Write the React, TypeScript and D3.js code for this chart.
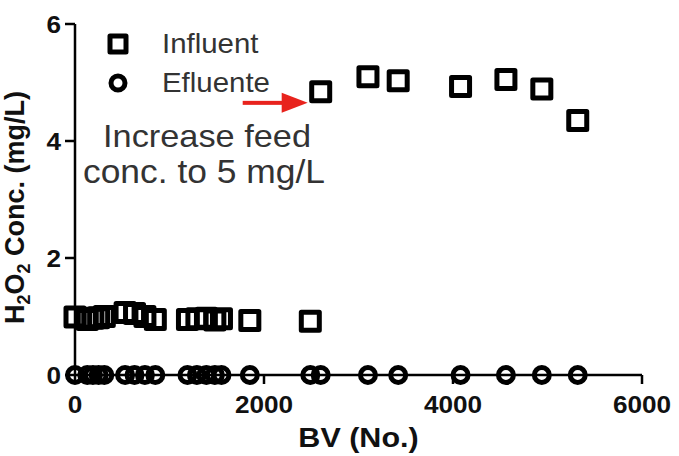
import React from "react";
import * as d3 from "d3";

const bvValues = [0, 130, 190, 250, 310, 530, 630, 740, 850, 1190, 1290, 1390, 1480, 1550, 1850, 2490, 2600, 3100, 3420, 4080, 4560, 4940, 5320];
const influent = [0.99, 0.95, 0.97, 0.98, 1.0, 1.07, 1.05, 1.0, 0.95, 0.95, 0.96, 0.97, 0.94, 0.96, 0.93, 0.92, 4.84, 5.1, 5.03, 4.93, 5.05, 4.89, 4.35];
const efluente = [0, 0, 0, 0, 0, 0, 0, 0, 0, 0, 0, 0, 0, 0, 0, 0, 0, 0, 0, 0, 0, 0, 0];
const xTicks = [0, 2000, 4000, 6000];
const yTicks = [0, 2, 4, 6];
const seriesNames = ["Influent", "Efluente"];
const annotationLines = ["Increase feed", "conc. to 5 mg/L"];

const W = 679;
const H = 456;
const FONT = "'Liberation Sans', Arial, Helvetica, sans-serif";
const SX = 1.09; // horizontal stretch of the reference text

export default function App() {
  const x = d3.scaleLinear().domain([0, 6000]).range([75, 642]);
  const y = d3.scaleLinear().domain([0, 6]).range([375, 24]);
  const sq = 18;
  const r = 7.5;
  const sw = 5;

  const arrowY = y(4.84) + 11;
  const arrowTip = x(2600) - 13;
  const arrowStart = arrowTip - 65;

  const stretched = (cx: number, cy: number) => `translate(${cx},${cy}) scale(${SX},1)`;

  return (
    <svg
      width={W}
      height={H}
      viewBox={`0 0 ${W} ${H}`}
      style={{ position: "absolute", left: 0, top: 0, background: "#fff" }}
      fontFamily={FONT}
    >
      <rect x={0} y={0} width={W} height={H} fill="#fff" />
      {/* axes */}
      <g stroke="#000" strokeWidth={2.5} fill="none">
        <line x1={x(0)} x2={x(0)} y1={y(6)} y2={y(0)} />
        <line x1={x(0)} x2={x(6000)} y1={y(0)} y2={y(0)} />
        {yTicks.map((t) => (
          <line key={"yt" + t} x1={x(0) - 10} x2={x(0)} y1={y(t)} y2={y(t)} />
        ))}
        {xTicks.map((t) => (
          <line key={"xt" + t} x1={x(t)} x2={x(t)} y1={y(0)} y2={y(0) + 9} />
        ))}
      </g>
      {/* tick labels */}
      <g fontSize={24} fontWeight="bold" fill="#111">
        {yTicks.map((t) => (
          <text key={"yl" + t} transform={stretched(x(0) - 14, y(t) + 8.5)} textAnchor="end">
            {t}
          </text>
        ))}
        {xTicks.map((t) => (
          <text key={"xl" + t} transform={stretched(x(t), 413)} textAnchor="middle">
            {t}
          </text>
        ))}
      </g>
      {/* axis titles */}
      <text transform={stretched((x(0) + x(6000)) / 2, 447)} textAnchor="middle" fontSize={28} fontWeight="bold" fill="#111">
        BV (No.)
      </text>
      <text
        transform={`translate(24, ${(y(0) + y(6)) / 2 + 8}) rotate(-90)`}
        textAnchor="middle"
        fontSize={27}
        fontWeight="bold"
        fill="#111"
      >
        <tspan>H</tspan>
        <tspan fontSize={18} dy={6}>2</tspan>
        <tspan dy={-6}>O</tspan>
        <tspan fontSize={18} dy={6}>2</tspan>
        <tspan dy={-6}> Conc. (mg/L)</tspan>
      </text>
      {/* efluente circles */}
      <g fill="none" stroke="#000" strokeWidth={sw}>
        {bvValues.map((b, i) => (
          <circle key={"c" + i} cx={x(b)} cy={y(efluente[i])} r={r} />
        ))}
      </g>
      {/* influent squares */}
      <g fill="none" stroke="#000" strokeWidth={sw} strokeLinejoin="round">
        {bvValues.map((b, i) => (
          <rect key={"s" + i} x={x(b) - sq / 2} y={y(influent[i]) - sq / 2} width={sq} height={sq} />
        ))}
      </g>
      {/* legend */}
      <g>
        <rect x={118 - 8} y={44 - 8} width={16} height={16} fill="none" stroke="#000" strokeWidth={sw} strokeLinejoin="round" />
        <circle cx={118} cy={83} r={7} fill="none" stroke="#000" strokeWidth={sw} />
        <text transform={stretched(162, 53)} fontSize={27} fill="#333">
          {seriesNames[0]}
        </text>
        <text transform={stretched(162, 92)} fontSize={27} fill="#333">
          {seriesNames[1]}
        </text>
      </g>
      {/* annotation */}
      <g fill="#333" textAnchor="middle">
        <text transform={stretched(207, 147)} fontSize={31.5}>{annotationLines[0]}</text>
        <text transform={stretched(204, 183)} fontSize={32.5}>{annotationLines[1]}</text>
      </g>
      <g fill="#e8231d" stroke="none">
        <rect x={arrowStart} y={arrowY - 2} width={arrowTip - arrowStart - 24} height={4} />
        <path d={`M${arrowTip},${arrowY} L${arrowTip - 26},${arrowY - 10} L${arrowTip - 26},${arrowY + 10} Z`} />
      </g>
    </svg>
  );
}
